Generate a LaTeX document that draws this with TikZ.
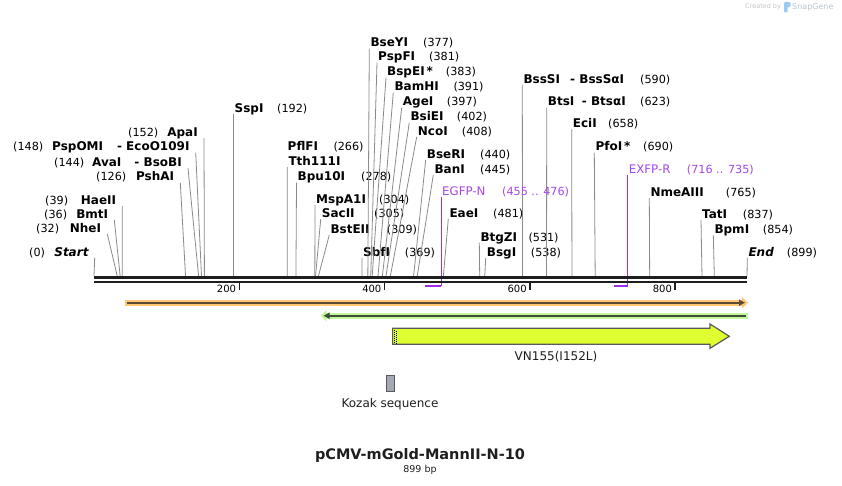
\documentclass[tikz,border=0pt]{standalone}
\usepackage{fontspec}
\setmainfont{DejaVu Sans}
\usetikzlibrary{arrows.meta}
\definecolor{sgblack}{HTML}{1E1E1E}
\definecolor{sgcut}{HTML}{8A8A8A}
\definecolor{sgpurple}{HTML}{A447E6}
\definecolor{sgprimer}{HTML}{9B30E8}
\definecolor{sgorange}{HTML}{FFC878}
\definecolor{sgorcore}{HTML}{5B4B33}
\definecolor{sggreen}{HTML}{C3F79B}
\definecolor{sggrcore}{HTML}{3D4D3A}
\definecolor{sgyellow}{HTML}{E0FF30}
\definecolor{sgedge}{HTML}{5A5A5A}
\definecolor{sgkozak}{HTML}{A4A8B4}
\definecolor{sgmark}{HTML}{C4C4C4}
\definecolor{sglogo}{HTML}{9CCBF2}
% base pairs -> x position on the map
\newcommand{\bpx}[1]{94+#1*0.72636}

\begin{document}
\begin{tikzpicture}[x=1pt, y=-1pt,
    enz/.style={anchor=west, font=\bfseries\fontsize{12}{14}\selectfont,
                text height=8.6pt, text depth=0pt, inner xsep=1pt, inner ysep=1.4pt},
    lenz/.style={enz, anchor=east, inner xsep=6pt},
    bpnum/.style={anchor=west, font=\fontsize{11.2}{13}\selectfont,
                  text height=8.6pt, text depth=0pt, inner sep=0pt},
    primlbl/.style={enz, font=\fontsize{11.8}{13}\selectfont, text=sgpurple},
    primnum/.style={bpnum, text=sgpurple},
    cutline/.style={draw=sgcut, line width=0.8pt},
    primline/.style={draw=sgprimer, line width=1pt},
    primbar/.style={draw=sgprimer, line width=2pt},
    bbone/.style={draw=sgblack, line width=2.5pt},
    tickline/.style={draw=sgblack, line width=1.5pt},
    ticknum/.style={anchor=east, font=\fontsize{10}{12}\selectfont, inner sep=0pt},
    featlbl/.style={font=\fontsize{12}{14}\selectfont, text=sgblack, inner sep=0pt}]
  \useasboundingbox (0,0) rectangle (842,486);

  % sites on the backbone
  \coordinate (s0) at ({\bpx{0}},276);     \coordinate (s32) at ({\bpx{32}},276);
  \coordinate (s36) at ({\bpx{36}},276);   \coordinate (s39) at ({\bpx{39}},276);
  \coordinate (s126) at ({\bpx{126}},276); \coordinate (s144) at ({\bpx{144}},276);
  \coordinate (s148) at ({\bpx{148}},276); \coordinate (s152) at ({\bpx{152}},276);
  \coordinate (s192) at ({\bpx{192}},276); \coordinate (s266) at ({\bpx{266}},276);
  \coordinate (s278) at ({\bpx{278}},276); \coordinate (s304) at ({\bpx{304}},276);
  \coordinate (s305) at ({\bpx{305}},276); \coordinate (s309) at ({\bpx{309}},276);
  \coordinate (s369) at ({\bpx{369}},276); \coordinate (s377) at ({\bpx{377}},276);
  \coordinate (s381) at ({\bpx{381}},276); \coordinate (s383) at ({\bpx{383}},276);
  \coordinate (s391) at ({\bpx{391}},276); \coordinate (s397) at ({\bpx{397}},276);
  \coordinate (s402) at ({\bpx{402}},276); \coordinate (s408) at ({\bpx{408}},276);
  \coordinate (s440) at ({\bpx{440}},276); \coordinate (s445) at ({\bpx{445}},276);
  \coordinate (s481) at ({\bpx{481}},276); \coordinate (s531) at ({\bpx{531}},276);
  \coordinate (s538) at ({\bpx{538}},276); \coordinate (s590) at ({\bpx{590}},276);
  \coordinate (s623) at ({\bpx{623}},276); \coordinate (s658) at ({\bpx{658}},276);
  \coordinate (s690) at ({\bpx{690}},276); \coordinate (s765) at ({\bpx{765}},276);
  \coordinate (s837) at ({\bpx{837}},276); \coordinate (s854) at ({\bpx{854}},276);
  \coordinate (s899) at ({\bpx{899}},276);

  % left side labels
  \node[lenz, font=\bfseries\itshape\fontsize{12}{14}\selectfont] (start) at (94.7,251.7) {Start};
  \node[bpnum] (start-n) at (29,251.7) {(0)};
  \node[lenz] (nhei) at (107.3,228) {NheI};
  \node[bpnum] (nhei-n) at (36,228) {(32)};
  \node[lenz] (bmti) at (114.3,214) {BmtI};
  \node[bpnum] (bmti-n) at (44,214) {(36)};
  \node[lenz] (haeii) at (122.3,200) {HaeII};
  \node[bpnum] (haeii-n) at (45,200) {(39)};
  \node[lenz] (pshai) at (180.3,176.7) {PshAI};
  \node[bpnum] (pshai-n) at (96,176.7) {(126)};
  \node[lenz] (bsobi) at (188,162.3) {- BsoBI};
  \node[enz] (avai) at (91,162.3) {AvaI};
  \node[bpnum] (avai-n) at (54,162.3) {(144)};
  \node[lenz] (eco) at (195.7,146.7) {- EcoO109I};
  \node[enz] (pspomi) at (51,146.7) {PspOMI};
  \node[bpnum] (pspomi-n) at (13,146.7) {(148)};
  \node[lenz] (apai) at (204,132.3) {ApaI};
  \node[bpnum] (apai-n) at (128,132.3) {(152)};
  \draw[cutline] (start.south east) -- (s0);
  \draw[cutline] (nhei.south east) -- (s32);
  \draw[cutline] (bmti.south east) -- (s36);
  \draw[cutline] (haeii.south east) -- (s39);
  \draw[cutline] (pshai.south east) -- (s126);
  \draw[cutline] (bsobi.south east) -- (s144);
  \draw[cutline] (eco.south east) -- (s148);
  \draw[cutline] (apai.south east) -- (s152);

  % middle labels
  \node[enz] (sspi) at (233.5,108) {SspI};
  \node[bpnum] (sspi-n) at (277,108) {(192)};
  \node[enz] (pflfi) at (286.5,146.7) {PflFI};
  \node[bpnum] (pflfi-n) at (333.3,146.7) {(266)};
  \node[enz] (tth) at (287.3,161) {Tth111I};
  \node[enz] (bpu) at (296.5,176.7) {Bpu10I};
  \node[bpnum] (bpu-n) at (361,176.7) {(278)};
  \node[enz] (mspa) at (315,199) {MspA1I};
  \node[bpnum] (mspa-n) at (379,199) {(304)};
  \node[enz] (sacii) at (320.7,213.3) {SacII};
  \node[bpnum] (sacii-n) at (374,213.3) {(305)};
  \node[enz] (bsteii) at (329.3,229) {BstEII};
  \node[bpnum] (bsteii-n) at (386.7,229) {(309)};
  \node[enz] (sbfi) at (362,251.7) {SbfI};
  \node[bpnum] (sbfi-n) at (404.7,251.7) {(369)};
  \node[enz] (bseyi) at (369.3,42.7) {BseYI};
  \node[bpnum] (bseyi-n) at (423,42.7) {(377)};
  \node[enz] (pspfi) at (377,56.7) {PspFI};
  \node[bpnum] (pspfi-n) at (429,56.7) {(381)};
  \node[enz] (bspei) at (386,71.7) {BspEI\,*};
  \node[bpnum] (bspei-n) at (445.7,71.7) {(383)};
  \node[enz] (bamhi) at (393.3,86.7) {BamHI};
  \node[bpnum] (bamhi-n) at (453.3,86.7) {(391)};
  \node[enz] (agei) at (401.7,101.7) {AgeI};
  \node[bpnum] (agei-n) at (446.7,101.7) {(397)};
  \node[enz] (bsiei) at (409.3,116.7) {BsiEI};
  \node[bpnum] (bsiei-n) at (456.7,116.7) {(402)};
  \node[enz] (ncoi) at (416.7,131) {NcoI};
  \node[bpnum] (ncoi-n) at (461.7,131) {(408)};
  \node[enz] (bseri) at (425.7,154) {BseRI};
  \node[bpnum] (bseri-n) at (480,154) {(440)};
  \node[enz] (bani) at (433.3,169) {BanI};
  \node[bpnum] (bani-n) at (480,169) {(445)};
  \node[enz] (eaei) at (448.3,213) {EaeI};
  \node[bpnum] (eaei-n) at (493,213) {(481)};
  \node[enz] (btgzi) at (479.3,236.7) {BtgZI};
  \node[bpnum] (btgzi-n) at (528.3,236.7) {(531)};
  \node[enz] (bsgi) at (485.7,252.3) {BsgI};
  \node[bpnum] (bsgi-n) at (530.7,252.3) {(538)};
  \draw[cutline] (sspi.south west) -- (s192);
  \draw[cutline] (tth.south west) -- (s266);
  \draw[cutline] (bpu.south west) -- (s278);
  \draw[cutline] (mspa.south west) -- (s304);
  \draw[cutline] (sacii.south west) -- (s305);
  \draw[cutline] (bsteii.south west) -- (s309);
  \draw[cutline] (sbfi.south west) -- (s369);
  \draw[cutline] (bseyi.south west) -- (s377);
  \draw[cutline] (pspfi.south west) -- (s381);
  \draw[cutline] (bspei.south west) -- (s383);
  \draw[cutline] (bamhi.south west) -- (s391);
  \draw[cutline] (agei.south west) -- (s397);
  \draw[cutline] (bsiei.south west) -- (s402);
  \draw[cutline] (ncoi.south west) -- (s408);
  \draw[cutline] (bseri.south west) -- (s440);
  \draw[cutline] (bani.south west) -- (s445);
  \draw[cutline] (eaei.south west) -- (s481);
  \draw[cutline] (btgzi.south west) -- (s531);
  \draw[cutline] (bsgi.south west) -- (s538);

  % right labels
  \node[enz] (bsssi) at (522.3,79) {BssSI};
  \node[enz] (bsssai) at (569,79) {- BssSαI};
  \node[bpnum] (bsssi-n) at (640,79) {(590)};
  \node[enz] (btsi) at (546.7,101.7) {BtsI};
  \node[enz] (btsai) at (580.7,101.7) {- BtsαI};
  \node[bpnum] (btsi-n) at (640,101.7) {(623)};
  \node[enz] (ecii) at (571.7,123.3) {EciI};
  \node[bpnum] (ecii-n) at (608,123.3) {(658)};
  \node[enz] (pfoi) at (594.3,146.7) {PfoI\,*};
  \node[bpnum] (pfoi-n) at (643,146.7) {(690)};
  \node[enz] (nmeaiii) at (649.3,192.3) {NmeAIII};
  \node[bpnum] (nmeaiii-n) at (725.7,192.3) {(765)};
  \node[enz] (tati) at (701,214) {TatI};
  \node[bpnum] (tati-n) at (742.7,214) {(837)};
  \node[enz] (bpmi) at (713.3,229.3) {BpmI};
  \node[bpnum] (bpmi-n) at (762.7,229.3) {(854)};
  \node[enz, font=\bfseries\itshape\fontsize{12}{14}\selectfont] (end) at (747.3,251.7) {End};
  \node[bpnum] (end-n) at (786.7,251.7) {(899)};
  \draw[cutline] (bsssi.south west) -- (s590);
  \draw[cutline] (btsi.south west) -- (s623);
  \draw[cutline] (ecii.south west) -- (s658);
  \draw[cutline] (pfoi.south west) -- (s690);
  \draw[cutline] (nmeaiii.south west) -- (s765);
  \draw[cutline] (tati.south west) -- (s837);
  \draw[cutline] (bpmi.south west) -- (s854);
  \draw[cutline] (end.south west) -- (s899);

  % primers
  \node[primlbl] (egfpn) at (441,191) {EGFP-N};
  \node[primnum] (egfpn-n) at (502,191) {(455 .. 476)};
  \node[primlbl] (exfpr) at (627.7,169) {EXFP-R};
  \node[primnum] (exfpr-n) at (686.7,169) {(716 .. 735)};
  \coordinate (egfpn-a) at ({\bpx{455}},286);
  \coordinate (egfpn-b) at (441,286);
  \coordinate (exfpr-a) at ({\bpx{716}},286);
  \coordinate (exfpr-b) at (627.7,286);
  \draw[primline] (egfpn.south west) -- (egfpn-b);
  \draw[primbar] (egfpn-a) -- (egfpn-b);
  \draw[primline] (exfpr.south west) -- (exfpr-b);
  \draw[primbar] (exfpr-a) -- (exfpr-b);

  % backbone and ruler
  \draw[bbone] (94,277.3) -- (747,277.3);
  \draw[bbone] (94,282) -- (747,282);
  \draw[tickline] ({\bpx{200}},283) -- ({\bpx{200}},290);
  \draw[tickline] ({\bpx{400}},283) -- ({\bpx{400}},290);
  \draw[tickline] ({\bpx{600}},283) -- ({\bpx{600}},290);
  \draw[tickline] ({\bpx{800}},283) -- ({\bpx{800}},290);
  \node[ticknum] (t200) at ({\bpx{200}-3},288.5) {200};
  \node[ticknum] (t400) at ({\bpx{400}-3},288.5) {400};
  \node[ticknum] (t600) at ({\bpx{600}-3},288.5) {600};
  \node[ticknum] (t800) at ({\bpx{800}-3},288.5) {800};

  % features
  \draw[sgorange, line width=6pt, -{Triangle[length=6pt,width=11pt]}] (124.8,302.7) -- (748,302.7);
  \draw[sgorcore, line width=2pt, -{Triangle[length=6pt,width=6pt]}] (126.5,302.7) -- (745,302.7);
  \draw[sggreen, line width=6pt, {Triangle[length=6pt,width=11pt]}-] (320.5,315.7) -- (748,315.7);
  \draw[sggrcore, line width=2pt, {Triangle[length=6pt,width=6pt]}-] (323.5,315.7) -- (746,315.7);
  \filldraw[fill=sgyellow, draw=sgedge, line width=1.2pt]
    (392.6,328.3) -- (710,328.3) -- (710,324) -- (729.3,336.3) -- (710,348.3)
    -- (710,344.3) -- (392.6,344.3) -- cycle;
  \draw[black, line width=1pt, dash pattern=on 1pt off 1pt] (394.6,329.5) -- (394.6,343.5);
  \draw[black, line width=1pt, dash pattern=on 1pt off 1pt] (396.8,330.5) -- (396.8,343.5);
  \node[featlbl] (vn155) at (556,357) {VN155(I152L)};
  \filldraw[fill=sgkozak, draw=sgedge, line width=0.8pt] (386,375) rectangle (394,391);
  \node[featlbl] (kozak) at (390,404) {Kozak sequence};

  % title
  \node[font=\bfseries\fontsize{14.5}{16}\selectfont, text=sgblack] (title) at (420,455) {pCMV-mGold-MannII-N-10};
  \node[font=\fontsize{9.5}{11}\selectfont, text=sgblack] (size) at (420,469.5) {899 bp};

  % watermark
  \node[anchor=west, inner sep=0pt, font=\fontsize{6.5}{8}\selectfont, text=sgmark] (made) at (745,7) {Created by};
  \fill[sglogo, rounded corners=1pt] (784,2) rectangle (787.5,12.5);
  \fill[sglogo, rounded corners=1.5pt] (784,2) rectangle (790.5,7.5);
  \node[anchor=west, inner sep=0pt, font=\fontsize{8}{10}\selectfont, text=sgmark!80!sglogo] (snap) at (792,7) {SnapGene};
\end{tikzpicture}
\end{document}
